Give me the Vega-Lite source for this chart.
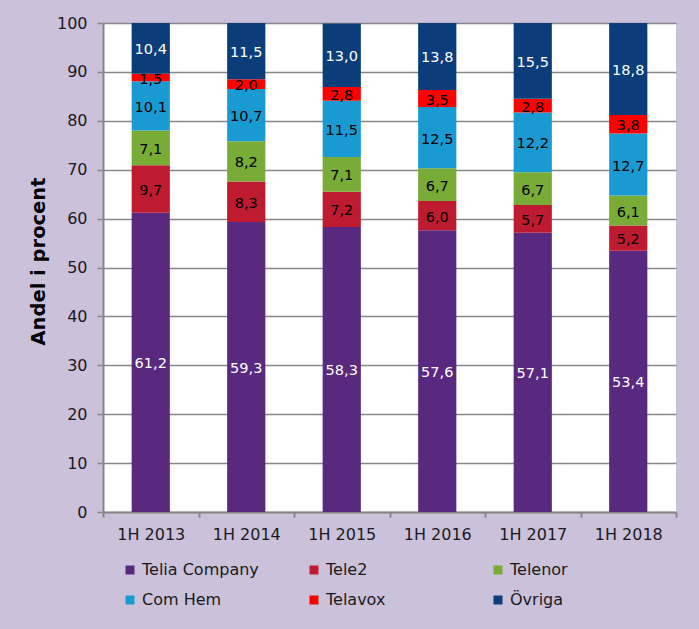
{
  "$schema": "https://vega.github.io/schema/vega-lite/v6.json",
  "autosize": "none",
  "width": 573,
  "height": 489,
  "padding": {"left": 103, "top": 23, "right": 23, "bottom": 117},
  "background": "#ccc1da",
  "config": {
    "view": {"fill": "white", "stroke": null},
    "font": "DejaVu Sans",
    "locale": {"number": {"decimal": ",", "thousands": "\u00a0", "grouping": [3], "currency": ["", " kr"]}}
  },
  "data": {
    "values": [
      {"period": "1H 2013", "company": "Telia Company", "order": 1, "value": 61.2},
      {"period": "1H 2013", "company": "Tele2", "order": 2, "value": 9.7},
      {"period": "1H 2013", "company": "Telenor", "order": 3, "value": 7.1},
      {"period": "1H 2013", "company": "Com Hem", "order": 4, "value": 10.1},
      {"period": "1H 2013", "company": "Telavox", "order": 5, "value": 1.5},
      {"period": "1H 2013", "company": "Övriga", "order": 6, "value": 10.4},
      {"period": "1H 2014", "company": "Telia Company", "order": 1, "value": 59.3},
      {"period": "1H 2014", "company": "Tele2", "order": 2, "value": 8.3},
      {"period": "1H 2014", "company": "Telenor", "order": 3, "value": 8.2},
      {"period": "1H 2014", "company": "Com Hem", "order": 4, "value": 10.7},
      {"period": "1H 2014", "company": "Telavox", "order": 5, "value": 2.0},
      {"period": "1H 2014", "company": "Övriga", "order": 6, "value": 11.5},
      {"period": "1H 2015", "company": "Telia Company", "order": 1, "value": 58.3},
      {"period": "1H 2015", "company": "Tele2", "order": 2, "value": 7.2},
      {"period": "1H 2015", "company": "Telenor", "order": 3, "value": 7.1},
      {"period": "1H 2015", "company": "Com Hem", "order": 4, "value": 11.5},
      {"period": "1H 2015", "company": "Telavox", "order": 5, "value": 2.8},
      {"period": "1H 2015", "company": "Övriga", "order": 6, "value": 13.0},
      {"period": "1H 2016", "company": "Telia Company", "order": 1, "value": 57.6},
      {"period": "1H 2016", "company": "Tele2", "order": 2, "value": 6.0},
      {"period": "1H 2016", "company": "Telenor", "order": 3, "value": 6.7},
      {"period": "1H 2016", "company": "Com Hem", "order": 4, "value": 12.5},
      {"period": "1H 2016", "company": "Telavox", "order": 5, "value": 3.5},
      {"period": "1H 2016", "company": "Övriga", "order": 6, "value": 13.8},
      {"period": "1H 2017", "company": "Telia Company", "order": 1, "value": 57.1},
      {"period": "1H 2017", "company": "Tele2", "order": 2, "value": 5.7},
      {"period": "1H 2017", "company": "Telenor", "order": 3, "value": 6.7},
      {"period": "1H 2017", "company": "Com Hem", "order": 4, "value": 12.2},
      {"period": "1H 2017", "company": "Telavox", "order": 5, "value": 2.8},
      {"period": "1H 2017", "company": "Övriga", "order": 6, "value": 15.5},
      {"period": "1H 2018", "company": "Telia Company", "order": 1, "value": 53.4},
      {"period": "1H 2018", "company": "Tele2", "order": 2, "value": 5.2},
      {"period": "1H 2018", "company": "Telenor", "order": 3, "value": 6.1},
      {"period": "1H 2018", "company": "Com Hem", "order": 4, "value": 12.7},
      {"period": "1H 2018", "company": "Telavox", "order": 5, "value": 3.8},
      {"period": "1H 2018", "company": "Övriga", "order": 6, "value": 18.8}
    ]
  },
  "transform": [
    {"stack": "value", "groupby": ["period"], "sort": [{"field": "order", "order": "ascending"}], "as": ["y0", "y1"]},
    {"calculate": "(datum.y0 + datum.y1) / 2", "as": "ymid"}
  ],
  "encoding": {
    "x": {
      "field": "period", "type": "nominal", "sort": null,
      "scale": {"paddingInner": 0, "paddingOuter": 0},
      "axis": {
        "title": null, "labelAngle": 0, "tickBand": "extent",
        "domainColor": "#878787", "domainWidth": 2, "tickColor": "#878787", "tickWidth": 2, "tickSize": 5,
        "labelFont": "DejaVu Sans", "labelFontSize": 16, "labelColor": "#1a1a1a", "labelPadding": 9
      }
    }
  },
  "layer": [
    {
      "mark": {"type": "bar", "width": {"band": 0.4}, "clip": true},
      "encoding": {
        "y": {
          "field": "y0", "type": "quantitative",
          "scale": {"domain": [0, 100], "nice": false, "zero": true},
          "axis": {
            "title": "Andel i procent", "values": [0, 10, 20, 30, 40, 50, 60, 70, 80, 90, 100],
            "grid": true, "gridColor": "#878787", "gridWidth": 1.5,
            "domainColor": "#878787", "domainWidth": 2, "tickColor": "#878787", "tickWidth": 1.5, "tickSize": 6,
            "labelFont": "DejaVu Sans", "labelFontSize": 16, "labelColor": "#1a1a1a", "labelPadding": 10,
            "titleFont": "DejaVu Sans", "titleFontSize": 19.5, "titleFontWeight": "bold", "titleColor": "#000000",
            "titleX": -65, "titleY": 238, "titleBaseline": "middle"
          }
        },
        "y2": {"field": "y1"},
        "color": {
          "field": "company", "type": "nominal",
          "scale": {
            "domain": ["Telia Company", "Tele2", "Telenor", "Com Hem", "Telavox", "Övriga"],
            "range": ["#59287f", "#be1a30", "#79ab37", "#1a9ad2", "#ff0000", "#0b3d7b"]
          },
          "legend": {
            "title": null, "orient": "none", "legendX": 19, "legendY": 539, "direction": "horizontal",
            "columns": 3, "gridAlign": "all", "columnPadding": 47, "rowPadding": 14, "padding": 0,
            "symbolType": "square", "symbolSize": 81, "symbolStrokeWidth": 0, "symbolOpacity": 1,
            "labelFont": "DejaVu Sans", "labelFontSize": 16, "labelColor": "#1a1a1a", "labelOffset": 4, "labelLimit": 200
          }
        }
      }
    },
    {
      "mark": {"type": "text", "fontSize": 14.5, "font": "DejaVu Sans", "baseline": "middle", "align": "center", "dy": 2},
      "encoding": {
        "y": {"field": "ymid", "type": "quantitative"},
        "text": {"field": "value", "type": "quantitative", "format": ".1f"},
        "color": {
          "condition": {"test": "datum.company === 'Telia Company' || datum.company === 'Övriga'", "value": "#ffffff"},
          "value": "#000000"
        }
      }
    }
  ]
}
